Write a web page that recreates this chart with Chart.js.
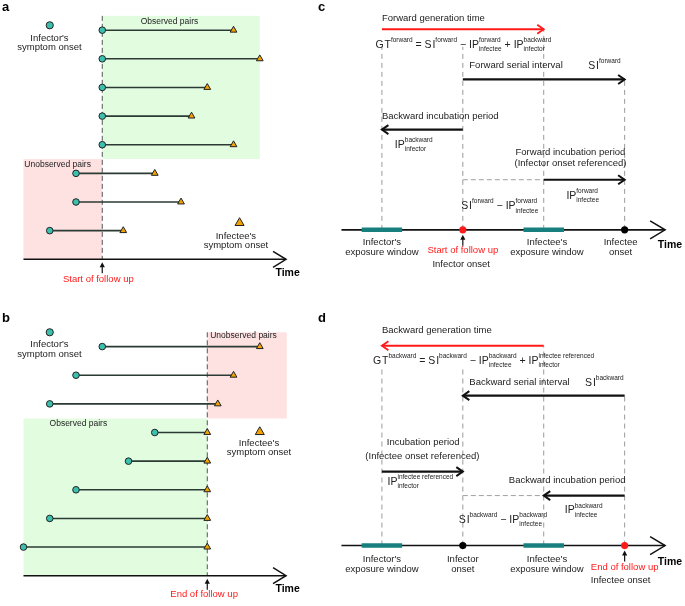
<!DOCTYPE html>
<html>
<head>
<meta charset="utf-8">
<script src="https://cdn.jsdelivr.net/npm/chart.js@4.4.0/dist/chart.umd.min.js"></script>
<style>
  html, body { margin: 0; padding: 0; background: #fff; }
  #wrap { position: relative; width: 685px; height: 606px; overflow: hidden; }
  canvas { position: absolute; }
</style>
</head>
<body>
<div id="wrap">
  <canvas id="pa" width="315" height="303" style="left:0;top:0"></canvas>
  <canvas id="pb" width="315" height="303" style="left:0;top:303px"></canvas>
  <canvas id="pc" width="370" height="303" style="left:315px;top:0"></canvas>
  <canvas id="pd" width="370" height="303" style="left:315px;top:303px"></canvas>
</div>
<script>
// ─── DATA ─────────────────────────────────────────────────────
// panels a / b : one row per infector–infectee pair (time units)
const pairRows       = [1, 2, 3, 4, 5, 6, 7, 8];
const aInfectorOnset = [3, 3, 3, 3, 3, 2, 2, 1];
const aInfecteeOnset = [8, 9, 7, 6.4, 8, 5, 6, 3.8];
const aFollowUp      = 3;     // start of follow up
const bInfectorOnset = [3, 2, 1, 5, 4, 2, 1, 0];
const bInfecteeOnset = [9, 8, 7.4, 7, 7, 7, 7, 7];
const bFollowUp      = 7;     // end of follow up
const pairAxisEnd    = 10;

// panels c / d : events on the time line
const eventTimes   = [1, 2, 3, 4];   // infector exposure, infector onset, infectee exposure, infectee onset
const exposureHalf = 0.25;
// arrows: [from event, to event, level]
const cArrows = [[0, 2, 4], [1, 3, 3], [1, 0, 2], [2, 3, 1]];
const dArrows = [[2, 0, 4], [3, 1, 3], [0, 1, 1.48], [3, 2, 1]];
const cGuideTops = [3.65, 3.65, 4, 3];
const dGuideTops = [3.6, 3.6, 4, 3];
const cRedEvent = 1, dRedEvent = 3;

// ─── STYLE ────────────────────────────────────────────────────
const FONT   = "'Liberation Sans', Arial, sans-serif";
const TEAL   = '#3cc0ae';
const ORANGE = '#f4a200';
const DARK   = '#222';
const RED    = '#ff1a1a';
const EXPO   = '#17807f';
const TXT    = '#222';

// ─── HELPERS ──────────────────────────────────────────────────
function span(v0, p0, s, size) { const min = v0 - p0 / s; return { min, max: min + size / s }; }
function spanUp(v0, p0, s, size) { const max = v0 + p0 / s; return { min: max - size / s, max }; }

function seg(x0, y0, x1, y1, color, width, dash, order) {
  return {
    data: [{ x: x0, y: y0 }, { x: x1, y: y1 }],
    showLine: true, pointRadius: 0, pointHoverRadius: 0,
    borderColor: color, borderWidth: width, borderDash: dash || [],
    borderCapStyle: 'butt', order: order == null ? 1 : order
  };
}

function chevron(ctx, x, y, dx, dy, len, half, color, width) {
  ctx.save();
  ctx.strokeStyle = color; ctx.lineWidth = width; ctx.lineJoin = 'miter';
  const nx = -dy, ny = dx;
  ctx.beginPath();
  ctx.moveTo(x - dx * len + nx * half, y - dy * len + ny * half);
  ctx.lineTo(x, y);
  ctx.lineTo(x - dx * len - nx * half, y - dy * len - ny * half);
  ctx.stroke();
  ctx.restore();
}

function upArrow(ctx, x, y0, color) {
  ctx.save();
  ctx.strokeStyle = color; ctx.fillStyle = color; ctx.lineWidth = 1.2;
  ctx.beginPath(); ctx.moveTo(x, y0 + 11); ctx.lineTo(x, y0 + 3); ctx.stroke();
  ctx.beginPath(); ctx.moveTo(x, y0); ctx.lineTo(x - 2.6, y0 + 5); ctx.lineTo(x + 2.6, y0 + 5); ctx.closePath(); ctx.fill();
  ctx.restore();
}

// rich text: [[base, sup, sub], ...]
function richWidth(ctx, parts, fs, ss) {
  let w = 0;
  for (const [b, sup, sub] of parts) {
    ctx.font = `${fs}px ${FONT}`; if (b) w += ctx.measureText(b).width;
    ctx.font = `${ss}px ${FONT}`;
    w += Math.max(sup ? ctx.measureText(sup).width : 0, sub ? ctx.measureText(sub).width : 0);
  }
  return w;
}
function drawRich(ctx, parts, x, y, fs, ss, align) {
  let cx = align === 'center' ? x - richWidth(ctx, parts, fs, ss) / 2 : x;
  ctx.textAlign = 'left';
  for (const [b, sup, sub] of parts) {
    if (b) { ctx.font = `${fs}px ${FONT}`; ctx.fillText(b, cx, y); cx += ctx.measureText(b).width; }
    ctx.font = `${ss}px ${FONT}`;
    let w = 0;
    if (sup) { ctx.fillText(sup, cx, y - fs * 0.45); w = ctx.measureText(sup).width; }
    if (sub) { ctx.fillText(sub, cx, y + fs * 0.42); w = Math.max(w, ctx.measureText(sub).width); }
    cx += w;
  }
}

// labels: {t | rich, x, y, align, size, color, bold}
function drawLabels(chart, labels) {
  const { ctx, scales: { x, y } } = chart;
  ctx.save();
  ctx.textBaseline = 'middle';
  for (const l of labels) {
    const px = x.getPixelForValue(l.x), py = y.getPixelForValue(l.y);
    ctx.fillStyle = l.color || TXT;
    if (l.rich) { drawRich(ctx, l.rich, px, py, l.size || 10.5, l.ss || 6.5, l.align); continue; }
    ctx.font = `${l.bold ? 'bold ' : ''}${l.size || 9.5}px ${FONT}`;
    ctx.textAlign = l.align || 'left';
    ctx.fillText(l.t, px, py);
  }
  ctx.restore();
}

function panelLetter(ctx, letter, x, y) {
  ctx.save();
  ctx.font = `bold 13px ${FONT}`; ctx.fillStyle = '#000';
  ctx.textBaseline = 'middle'; ctx.textAlign = 'left';
  ctx.fillText(letter, x, y);
  ctx.restore();
}

function makeChart(id, xr, yr, reverseY, datasets, plugin) {
  return new Chart(document.getElementById(id), {
    type: 'scatter',
    data: { datasets },
    options: {
      responsive: false, animation: false, devicePixelRatio: 1, events: [],
      layout: { padding: 0 },
      plugins: { legend: { display: false }, tooltip: { enabled: false } },
      scales: {
        x: { type: 'linear', display: false, min: xr.min, max: xr.max },
        y: { type: 'linear', display: false, min: yr.min, max: yr.max, reverse: reverseY }
      }
    },
    plugins: [plugin]
  });
}

// ─── PANELS a / b ─────────────────────────────────────────────
function pairPanel(id, letter, onsets, infectees, followUp, o) {
  const axisY = 9;
  const datasets = [
    { data: pairRows.map((r, i) => ({ x: onsets[i], y: r })), pointStyle: 'circle', pointRadius: 3.3,
      backgroundColor: TEAL, borderColor: DARK, borderWidth: 1, order: 0 },
    { data: pairRows.map((r, i) => ({ x: infectees[i], y: r })), pointStyle: 'triangle', pointRadius: 3.9,
      backgroundColor: ORANGE, borderColor: DARK, borderWidth: 1, order: 0 },
    { data: [o.legendCircle], pointStyle: 'circle', pointRadius: 3.6,
      backgroundColor: TEAL, borderColor: DARK, borderWidth: 1, order: 0 },
    { data: [o.legendTri], pointStyle: 'triangle', pointRadius: 5.2,
      backgroundColor: ORANGE, borderColor: DARK, borderWidth: 1, order: 0 },
    ...pairRows.map((r, i) => seg(onsets[i], r, infectees[i], r, '#2b3a33', 1.6)),
    seg(followUp, 0.5, followUp, axisY, '#555', 1, [5, 3], 2),
    seg(0, axisY, pairAxisEnd, axisY, '#111', 1.6, null, 1)
  ];
  const plugin = {
    id: 'pairDecor' + id,
    beforeDatasetsDraw(chart) {
      const { ctx, scales: { x, y } } = chart;
      ctx.save();
      for (const r of o.rects) {
        ctx.fillStyle = r.color;
        const x0 = x.getPixelForValue(r.x0), x1 = x.getPixelForValue(r.x1);
        const y0 = y.getPixelForValue(r.y0), y1 = y.getPixelForValue(r.y1);
        ctx.fillRect(x0, y0, x1 - x0, y1 - y0);
      }
      ctx.restore();
    },
    afterDatasetsDraw(chart) {
      const { ctx, scales: { x, y } } = chart;
      const ay = y.getPixelForValue(axisY);
      chevron(ctx, x.getPixelForValue(pairAxisEnd), ay, 1, 0, 13, 8, '#111', 1.5);
      upArrow(ctx, x.getPixelForValue(followUp), ay + 3, '#111');
      drawLabels(chart, o.labels);
      panelLetter(ctx, letter, 2, o.letterY);
    }
  };
  makeChart(id, span(0, 18, 27.33, 315), span(1, o.row1, 29.86, 303), true, datasets, plugin);
}

pairPanel('pa', 'a', aInfectorOnset, aInfecteeOnset, aFollowUp, {
  row1: 25, letterY: 7,
  legendCircle: { x: 1, y: 0.83 }, legendTri: { x: 8.23, y: 7.73 },
  rects: [
    { x0: aFollowUp, x1: 9, y0: 0.5, y1: 5.5, color: '#e2fce0' },
    { x0: 0, x1: aFollowUp, y0: 5.5, y1: 9, color: '#fee2e2' }
  ],
  labels: [
    { t: 'Observed pairs', x: 5.56, y: 0.7, align: 'center', size: 8.5 },
    { t: 'Unobserved pairs', x: 1.3, y: 5.69, align: 'center', size: 8.5 },
    { t: "Infector's", x: 0.99, y: 1.27, align: 'center' },
    { t: 'symptom onset', x: 0.99, y: 1.6, align: 'center' },
    { t: "Infectee's", x: 8.09, y: 8.2, align: 'center' },
    { t: 'symptom onset', x: 8.09, y: 8.5, align: 'center' },
    { t: 'Start of follow up', x: 2.85, y: 9.7, align: 'center', color: RED },
    { t: 'Time', x: 10.06, y: 9.5, align: 'center', bold: true, size: 10.5, color: '#000' }
  ]
});

pairPanel('pb', 'b', bInfectorOnset, bInfecteeOnset, bFollowUp, {
  row1: 39, letterY: 15,
  legendCircle: { x: 1, y: 0.5 }, legendTri: { x: 9, y: 3.98 },
  rects: [
    { x0: bFollowUp, x1: 10.03, y0: 0.5, y1: 3.51, color: '#fee2e2' },
    { x0: 0, x1: bFollowUp, y0: 3.51, y1: 9, color: '#e2fce0' }
  ],
  labels: [
    { t: 'Unobserved pairs', x: 8.38, y: 0.63, align: 'center', size: 8.5 },
    { t: 'Observed pairs', x: 2.09, y: 3.68, align: 'center', size: 8.5 },
    { t: "Infector's", x: 0.99, y: 0.93, align: 'center' },
    { t: 'symptom onset', x: 0.99, y: 1.27, align: 'center' },
    { t: "Infectee's", x: 8.97, y: 4.38, align: 'center' },
    { t: 'symptom onset', x: 8.97, y: 4.68, align: 'center' },
    { t: 'End of follow up', x: 6.88, y: 9.64, align: 'center', color: RED },
    { t: 'Time', x: 10.06, y: 9.47, align: 'center', bold: true, size: 10.5, color: '#000' }
  ]
});

// ─── PANELS c / d ─────────────────────────────────────────────
function timelinePanel(id, letter, arrows, guideTops, redEvent, o) {
  const t = eventTimes;
  const datasets = [
    { data: t.map(v => ({ x: v, y: 0 })).filter((p, i) => i === 1 || i === 3),
      pointStyle: 'circle', pointRadius: 3.6,
      backgroundColor: [1, 3].map(i => i === redEvent ? RED : '#000'),
      borderColor: [1, 3].map(i => i === redEvent ? RED : '#000'), borderWidth: 0, order: 0 },
    seg(t[0] - exposureHalf, 0, t[0] + exposureHalf, 0, EXPO, 4.5, null, 0.5),
    seg(t[2] - exposureHalf, 0, t[2] + exposureHalf, 0, EXPO, 4.5, null, 0.5),
    seg(0.5, 0, 4.5, 0, '#111', 1.6, null, 1),
    ...t.map((v, i) => seg(v, 0, v, guideTops[i], '#9a9a9a', 1, [5, 4], 3)),
    seg(t[1], 1, t[2], 1, '#a0a0a0', 1, [5, 3], 2),
    ...arrows.map(([a, b, lv], k) => seg(t[a], lv, t[b], lv, k === 0 ? RED : '#111', k === 0 ? 2 : 2.2, null, 1))
  ];
  const plugin = {
    id: 'timeDecor' + id,
    afterDatasetsDraw(chart) {
      const { ctx, scales: { x, y } } = chart;
      arrows.forEach(([a, b, lv], k) => {
        const dir = Math.sign(t[b] - t[a]);
        chevron(ctx, x.getPixelForValue(t[b]), y.getPixelForValue(lv), dir, 0, 6.5, 4.5,
          k === 0 ? RED : '#111', k === 0 ? 1.8 : 2);
      });
      const ay = y.getPixelForValue(0);
      chevron(ctx, x.getPixelForValue(4.5), ay, 1, 0, 15, 9, '#111', 1.5);
      upArrow(ctx, x.getPixelForValue(t[redEvent]), ay + 5, '#111');
      drawLabels(chart, o.labels);
      panelLetter(ctx, letter, 3, o.letterY);
    }
  };
  makeChart(id, span(1, 64.3, 82.7, 370), spanUp(0, o.axisPx, o.levelPx, 303), false, datasets, plugin);
}

timelinePanel('pc', 'c', cArrows, cGuideTops, cRedEvent, {
  axisPx: 232, levelPx: 51.5, letterY: 7,
  labels: [
    { t: 'Forward generation time', x: 1.0, y: 4.21 },
    { rich: [['G\u200AT', 'forward'], [' = S\u200AI', 'forward'], [' \u2212 IP', 'forward', 'infectee'], [' + IP', 'backward', 'infector']], x: 0.92, y: 3.69 },
    { t: 'Forward serial interval', x: 2.08, y: 3.28 },
    { rich: [['S\u200AI', 'forward']], x: 3.55, y: 3.26 },
    { t: 'Backward incubation period', x: 1.0, y: 2.27 },
    { rich: [['IP', 'backward', 'infector']], x: 1.16, y: 1.69 },
    { t: 'Forward incubation period', x: 3.33, y: 1.55, align: 'center' },
    { t: '(Infector onset referenced)', x: 3.33, y: 1.32, align: 'center' },
    { rich: [['IP', 'forward', 'infectee']], x: 3.28, y: 0.68 },
    { rich: [['S\u200AI', 'forward'], [' \u2212 IP', 'forward', 'infectee']], x: 1.98, y: 0.47 },
    { t: "Infector's", x: 1.0, y: -0.25, align: 'center' },
    { t: 'exposure window', x: 1.0, y: -0.45, align: 'center' },
    { t: 'Start of follow up', x: 2.0, y: -0.41, align: 'center', color: RED },
    { t: 'Infector onset', x: 1.98, y: -0.68, align: 'center' },
    { t: "Infectee's", x: 3.04, y: -0.25, align: 'center' },
    { t: 'exposure window', x: 3.04, y: -0.45, align: 'center' },
    { t: 'Infectee', x: 3.95, y: -0.25, align: 'center' },
    { t: 'onset', x: 3.95, y: -0.45, align: 'center' },
    { t: 'Time', x: 4.56, y: -0.31, align: 'center', bold: true, size: 10.5, color: '#000' }
  ]
});

timelinePanel('pd', 'd', dArrows, dGuideTops, dRedEvent, {
  axisPx: 245, levelPx: 51.3, letterY: 15,
  labels: [
    { t: 'Backward generation time', x: 1.0, y: 4.31 },
    { rich: [['G\u200AT', 'backward'], [' = S\u200AI', 'backward'], [' \u2212 IP', 'backward', 'infectee'], [' + IP', 'infectee referenced', 'infector']], x: 0.89, y: 3.7 },
    { t: 'Backward serial interval', x: 2.08, y: 3.27 },
    { rich: [['S\u200AI', 'backward']], x: 3.51, y: 3.25 },
    { t: 'Incubation period', x: 1.06, y: 2.07 },
    { t: '(Infectee onset referenced)', x: 1.5, y: 1.79, align: 'center' },
    { rich: [['IP', 'infectee referenced', 'infector']], x: 1.07, y: 1.27 },
    { t: 'Backward incubation period', x: 3.29, y: 1.31, align: 'center' },
    { rich: [['IP', 'backward', 'infectee']], x: 3.26, y: 0.7 },
    { rich: [['S\u200AI', 'backward'], [' \u2212 IP', 'backward', 'infectee']], x: 1.95, y: 0.51 },
    { t: "Infector's", x: 1.0, y: -0.27, align: 'center' },
    { t: 'exposure window', x: 1.0, y: -0.47, align: 'center' },
    { t: 'Infector', x: 2.0, y: -0.27, align: 'center' },
    { t: 'onset', x: 2.0, y: -0.47, align: 'center' },
    { t: "Infectee's", x: 3.04, y: -0.27, align: 'center' },
    { t: 'exposure window', x: 3.04, y: -0.47, align: 'center' },
    { t: 'End of follow up', x: 4.0, y: -0.43, align: 'center', color: RED },
    { t: 'Infectee onset', x: 3.95, y: -0.7, align: 'center' },
    { t: 'Time', x: 4.56, y: -0.33, align: 'center', bold: true, size: 10.5, color: '#000' }
  ]
});
</script>
</body>
</html>
